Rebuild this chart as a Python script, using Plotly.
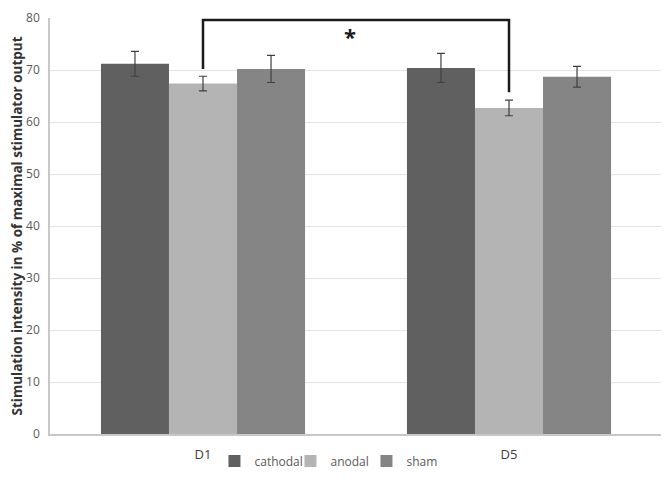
import plotly.graph_objects as go

days = ["D1", "D5"]
groups = ["cathodal", "anodal", "sham"]
means = {
    "cathodal": [71.2, 70.4],
    "anodal": [67.4, 62.7],
    "sham": [70.2, 68.7],
}
errors = {
    "cathodal": [2.4, 2.8],
    "anodal": [1.4, 1.5],
    "sham": [2.6, 2.0],
}
colors = {"cathodal": "#606060", "anodal": "#b4b4b4", "sham": "#858585"}

xpos = list(range(len(days)))

fig = go.Figure()
for g in groups:
    fig.add_trace(go.Bar(
        x=xpos, y=means[g], name=g,
        marker=dict(color=colors[g], line=dict(width=0)),
        error_y=dict(type="data", array=errors[g], color="#404040", thickness=1.2, width=4),
    ))

# significance bracket between anodal D1 and anodal D5 (anodal is the middle bar -> offset 0)
top = 79.6
left_end = means["anodal"][0] + errors["anodal"][0] + 1.4
right_end = means["anodal"][1] + errors["anodal"][1] + 1.5
fig.add_trace(go.Scatter(
    x=[xpos[0], xpos[0], xpos[1], xpos[1]], y=[left_end, top, top, right_end],
    mode="lines", line=dict(color="#1a1a1a", width=2.5),
    showlegend=False, hoverinfo="skip", cliponaxis=False,
))
fig.add_annotation(x=0.48, y=76.5, text="<b>*</b>", showarrow=False,
                   font=dict(size=22, color="#1a1a1a"))

# page body adds ~8px offset, so margins are shifted accordingly
fig.update_layout(
    width=669, height=498,
    margin=dict(l=42, r=15, t=10, b=72, autoexpand=False),
    plot_bgcolor="white", paper_bgcolor="white",
    barmode="group", bargap=0.333, bargroupgap=0,
    font=dict(family="Open Sans", color="#595959", size=12),
    legend=dict(orientation="h", x=0.455, xanchor="center", y=-0.03, yanchor="top",
                font=dict(size=12, color="#595959"), entrywidth=31, entrywidthmode="pixels",
                itemwidth=30, tracegroupgap=0),
)
fig.update_xaxes(tickvals=xpos, ticktext=days, range=[-0.5, 1.5], automargin=False,
                 showline=True, linecolor="#c8c8c8", linewidth=1.5, ticks="",
                 ticklabelstandoff=8,
                 tickfont=dict(size=13, color="#404040"), showgrid=False)
fig.update_yaxes(range=[0, 80], dtick=10, showgrid=True, gridcolor="#e3e3e3", gridwidth=1,
                 showline=True, linecolor="#c8c8c8", linewidth=1.5, zeroline=False,
                 automargin=False, ticklabelstandoff=6, ticklabeloverflow="allow",
                 tickfont=dict(size=12, color="#595959"),
                 title=dict(text="<b>Stimulation intensity in % of maximal stimulator output</b>",
                            font=dict(size=13.5, color="#333333"), standoff=4))

fig.write_html("out.html")
